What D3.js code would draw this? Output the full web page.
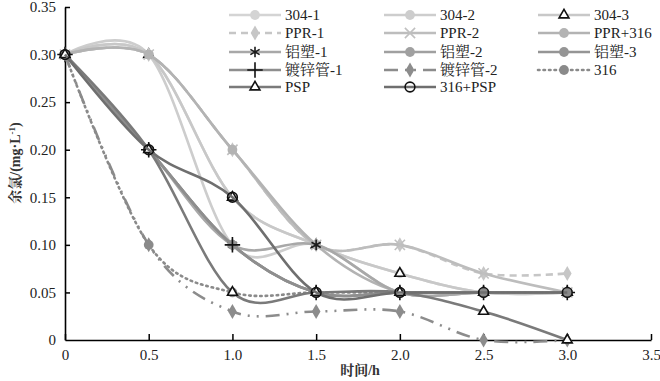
<!DOCTYPE html>
<html><head><meta charset="utf-8">
<script src="https://cdn.jsdelivr.net/npm/d3@7"></script>
<style>body{margin:0;background:#fff}svg text{font-family:"Liberation Serif","Noto Serif CJK SC","Noto Sans CJK SC",serif;}</style>
</head><body><svg id="c" width="660" height="381"></svg>
<script>
const times = [0, 0.5, 1.0, 1.5, 2.0, 2.5, 3.0];
const seriesNames = ["304-1","304-2","304-3","PPR-1","PPR-2","PPR+316","铝塑-1","铝塑-2","铝塑-3","镀锌管-1","镀锌管-2","316","PSP","316+PSP"];
const v304_1   = [0.30,0.30,0.15,0.10,0.07,0.05,0.05];
const v304_2   = [0.30,0.30,0.10,0.10,0.05,0.05,0.05];
const v304_3   = [0.30,0.30,0.15,0.10,0.07,0.05,0.05];
const vPPR_1   = [0.30,0.30,0.20,0.10,0.10,0.07,0.07];
const vPPR_2   = [0.30,0.30,0.20,0.10,0.10,0.07,0.05];
const vPPR316  = [0.30,0.30,0.20,0.10,0.05,0.05,0.05];
const vAl_1    = [0.30,0.20,0.10,0.10,0.05,0.05,0.05];
const vAl_2    = [0.30,0.20,0.10,0.05,0.05,0.05,0.05];
const vAl_3    = [0.30,0.20,0.10,0.05,0.05,0.05,0.05];
const vZn_1    = [0.30,0.20,0.10,0.05,0.05,0.05,0.05];
const vZn_2    = [0.30,0.10,0.03,0.03,0.03,0.00,0.00];
const v316     = [0.30,0.10,0.05,0.05,0.05,0.05,0.05];
const vPSP     = [0.30,0.20,0.05,0.05,0.05,0.03,0.00];
const v316PSP  = [0.30,0.20,0.15,0.05,0.05,0.05,0.05];
const seriesValues = [v304_1,v304_2,v304_3,vPPR_1,vPPR_2,vPPR316,vAl_1,vAl_2,vAl_3,vZn_1,vZn_2,v316,vPSP,v316PSP];
const xTicks = [0,0.5,1.0,1.5,2.0,2.5,3.0,3.5];
const xTickLabels = ["0","0.5","1.0","1.5","2.0","2.5","3.0","3.5"];
const yTicks = [0,0.05,0.10,0.15,0.20,0.25,0.30,0.35];
const yTickLabels = ["0","0.05","0.10","0.15","0.20","0.25","0.30","0.35"];

const styles = [
 {c:"#d4d4d4", dash:null, m:"circle", mf:"#d4d4d4", ms:"none"},
 {c:"#cdcdcd", dash:null, m:"circle", mf:"#cdcdcd", ms:"none"},
 {c:"#c8c8c8", dash:null, m:"triangle", mf:"#fff", ms:"#111"},
 {c:"#c6c6c6", dash:"7,5", m:"diamond", mf:"#c6c6c6", ms:"none"},
 {c:"#bdbdbd", dash:null, m:"x", mf:"none", ms:"#c0c0c0"},
 {c:"#b3b3b3", dash:null, m:"circle", mf:"#b3b3b3", ms:"none"},
 {c:"#a8a8a8", dash:null, m:"asterisk", mf:"none", ms:"#1a1a1a"},
 {c:"#a0a0a0", dash:null, m:"circle", mf:"#a0a0a0", ms:"none"},
 {c:"#959595", dash:null, m:"circle", mf:"#959595", ms:"none"},
 {c:"#8e8e8e", dash:null, m:"plus", mf:"none", ms:"#111"},
 {c:"#8c8c8c", dash:"14,7,2,7,2,7", m:"diamond", mf:"#8c8c8c", ms:"none"},
 {c:"#8a8a8a", dash:"1.5,4", m:"circle", mf:"#8a8a8a", ms:"none", cap:"round"},
 {c:"#7a7a7a", dash:null, m:"triangle", mf:"#fff", ms:"#111"},
 {c:"#6f6f6f", dash:null, m:"circle", mf:"none", ms:"#111"}
];

const svg = d3.select("#c");
const x = d3.scaleLinear().domain([0,3.5]).range([65,651]);
const y = d3.scaleLinear().domain([0,0.35]).range([340,7]);

const FONT = '"Liberation Serif","Noto Serif CJK SC","Noto Sans CJK SC",serif';
const xAxis = d3.axisBottom(x).tickValues(xTicks).tickFormat((d,i)=>xTickLabels[i]).tickSizeInner(-6).tickSizeOuter(0).tickPadding(9);
const gx = svg.append("g").attr("transform","translate(0,340)").call(xAxis);
const yAxis = d3.axisLeft(y).tickValues(yTicks).tickFormat((d,i)=>yTickLabels[i]).tickSizeInner(-5).tickSizeOuter(0).tickPadding(9);
const gy = svg.append("g").attr("transform","translate(65,0)").call(yAxis);
[gx,gy].forEach(g=>{
  g.attr("font-family",FONT);
  g.select(".domain").attr("stroke","#000").attr("stroke-width",1.6);
  g.selectAll(".tick line").attr("stroke","#000").attr("stroke-width",1.5);
  g.selectAll(".tick text").attr("font-size",15).attr("fill","#222");
});
gy.selectAll(".tick").filter(d=>d===0).select("line").remove();

svg.append("text").attr("x",360).attr("y",375).attr("text-anchor","middle").attr("font-size",14).attr("font-weight","bold").attr("fill","#333").text("时间/h");
svg.append("text").attr("transform","translate(20,163) rotate(-90)").attr("text-anchor","middle").attr("font-size",14).attr("font-weight","bold").attr("fill","#333")
  .html('余氯/(mg·L<tspan dy="-5" font-size="9">-1</tspan><tspan dy="5">)</tspan>');

function symPath(m, size){
  const map = {circle:d3.symbolCircle, triangle:d3.symbolTriangle2, diamond:d3.symbolDiamond, x:d3.symbolX, asterisk:d3.symbolAsterisk, plus:d3.symbolPlus};
  return d3.symbol().type(map[m]).size(size)();
}
function drawMarker(g, st, px, py){
  const size = {circle:75, triangle:70, diamond:65, x:70, asterisk:80, plus:80}[st.m];
  g.append("path").attr("d",symPath(st.m,size)).attr("transform",`translate(${px},${py})`)
    .attr("fill",st.mf).attr("stroke",st.ms==="none"?"none":st.ms).attr("stroke-width",1.6);
}

const line = d3.line().x(d=>x(d[0])).y(d=>y(d[1])).curve(d3.curveCardinal.tension(0));
const plot = svg.append("g");
seriesValues.forEach((vals,i)=>{
  const st = styles[i];
  const pts = times.map((t,j)=>[t,vals[j]]);
  plot.append("path").attr("d",line(pts)).attr("fill","none").attr("stroke",st.c).attr("stroke-width",2.6)
    .attr("stroke-dasharray",st.dash).attr("stroke-linecap",st.cap||"butt");
  const gm = plot.append("g");
  pts.forEach(p=>drawMarker(gm, st, x(p[0]), y(p[1])));
});

const colX = [229, 384, 538];
const rowY = [15, 33, 52, 70, 87];
const lg = svg.append("g");
seriesNames.forEach((name,i)=>{
  const st = styles[i];
  const cx = colX[i%3], cy = rowY[Math.floor(i/3)];
  lg.append("line").attr("x1",cx).attr("x2",cx+52).attr("y1",cy).attr("y2",cy).attr("stroke",st.c).attr("stroke-width",2.6)
    .attr("stroke-dasharray",st.dash).attr("stroke-linecap",st.cap||"butt");
  drawMarker(lg, st, cx+26, cy);
  lg.append("text").attr("x",cx+56).attr("y",cy+5).attr("font-size",15).attr("fill","#222").text(name);
});
</script></body></html>
